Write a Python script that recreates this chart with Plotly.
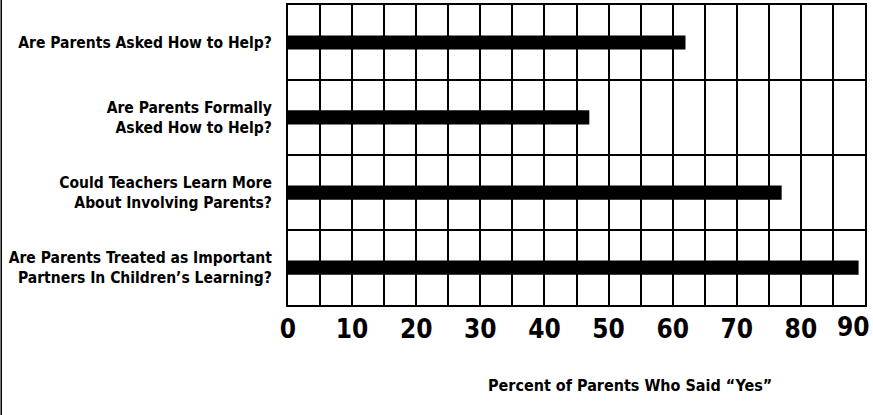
import plotly.graph_objects as go

# survey questions, top to bottom
questions = [
    "Are Parents Asked How to Help?",
    "Are Parents Formally<br>Asked How to Help?",
    "Could Teachers Learn More<br>About Involving Parents?",
    "Are Parents Treated as Important<br>Partners In Children\u2019s Learning?",
]
pct_yes = [62, 47, 77, 89]
x_ticks = [0, 10, 20, 30, 40, 50, 60, 70, 80, 90]

FONT = "DejaVu Sans Condensed, Roboto, sans-serif"
n = len(questions)
# numeric rows so that grid lines fall between categories
rows = [n - i - 0.5 for i in range(n)]

fig = go.Figure()
fig.add_trace(go.Bar(
    x=pct_yes, y=rows, orientation="h",
    width=0.19, marker=dict(color="black", line=dict(width=0)),
    hoverinfo="skip",
))

fig.update_layout(
    width=873, height=415,
    margin=dict(l=288, r=8, t=5, b=110, autoexpand=False),
    plot_bgcolor="white", paper_bgcolor="white",
    showlegend=False,
    font=dict(family=FONT, color="black"),
)
tick_font = dict(family=FONT, size=26, weight="bold")
fig.update_xaxes(
    range=[0, 90],
    tickvals=x_ticks[:-1],
    tickfont=tick_font,
    automargin=False,
    showgrid=True, gridcolor="black", gridwidth=1.5,
    minor=dict(dtick=5, showgrid=True, gridcolor="black", gridwidth=1.5),
    showline=True, linecolor="black", linewidth=2, mirror=True,
    ticks="", zeroline=False,
)
fig.update_yaxes(
    range=[0, n],
    tickvals=rows, ticktext=questions,
    tickfont=dict(family=FONT, size=15.5, weight="bold"),
    automargin=False,
    showgrid=False,
    minor=dict(tickvals=list(range(1, n)), showgrid=True,
               gridcolor="black", gridwidth=1.5),
    showline=True, linecolor="black", linewidth=2, mirror=True,
    ticks="", zeroline=False, ticklabelstandoff=11,
)

# last tick label is pulled inside the frame, as in the original
fig.add_annotation(
    text=str(x_ticks[-1]), x=x_ticks[-1], xref="x",
    y=0, yref="paper", yanchor="top", xanchor="right",
    xshift=7, yshift=-5, showarrow=False, font=tick_font,
)

fig.add_annotation(
    text="Percent of Parents Who Said \u201cYes\u201d",
    xref="paper", yref="paper", x=0.593, y=-0.267, yanchor="middle",
    showarrow=False, font=dict(family=FONT, size=16, weight="bold"),
)
# page border on the far left
fig.add_shape(type="line", xref="paper", yref="paper",
              x0=-0.497, x1=-0.497, y0=-0.37, y1=1.02,
              line=dict(color="black", width=1.5))

# drop the default body margin so the figure fills the window exactly
fig.write_html("out.html", config={"displayModeBar": False},
               post_script="document.body.style.margin='0';")
